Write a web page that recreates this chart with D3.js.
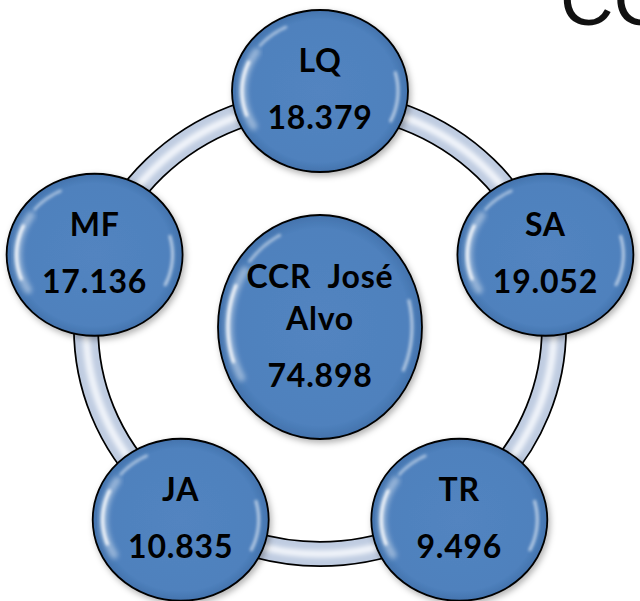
<!DOCTYPE html>
<html>
<head>
<meta charset="utf-8">
<script src="https://cdn.jsdelivr.net/npm/d3@7"></script>
<style>
  body { margin: 0; background: #ffffff; overflow: hidden; }
  svg { display: block; }
</style>
</head>
<body>
<div id="cycle"></div>
<script>
// Data
let units = ["LQ", "SA", "TR", "JA", "MF"];
let unitValues = [18379, 19052, 9496, 10835, 17136];
let centerLines = ["CCR  José", "Alvo"];
let centerValue = 74898;
let titleText = "CC";

function init() {
    let width = 640;
    let height = 601;
    let cx = 320, cy = 328;
    // ring / orbit radius (slightly elliptical like the original)
    let orbit = {"rx": 234, "ry": 226};
    let spoke = 237; // distance of unit centres from the hub
    let node = {"rx": 88, "ry": 81};
    let hub = {"rx": 102, "ry": 112};

    let fmt = d3.format(",.0f");
    let ptBR = v => fmt(v).replace(/,/g, ".");

    let svg = d3.select("#cycle").append("svg")
        .attr("width", width)
        .attr("height", height);

    let defs = svg.append("defs");

    // circle fill
    let grad = defs.append("radialGradient")
        .attr("id", "ballFill")
        .attr("cx", "50%").attr("cy", "50%").attr("r", "50%");
    grad.append("stop").attr("offset", "0%").attr("stop-color", "#5284c0");
    grad.append("stop").attr("offset", "88%").attr("stop-color", "#4f81bd");
    grad.append("stop").attr("offset", "100%").attr("stop-color", "#4373ad");

    let shadow = defs.append("filter").attr("id", "shadow")
        .attr("x", "-20%").attr("y", "-20%").attr("width", "140%").attr("height", "140%");
    shadow.append("feDropShadow")
        .attr("dx", 2).attr("dy", 3).attr("stdDeviation", 3)
        .attr("flood-color", "#000").attr("flood-opacity", 0.3);

    let soft = defs.append("filter").attr("id", "soft")
        .attr("x", "-50%").attr("y", "-50%").attr("width", "200%").attr("height", "200%");
    soft.append("feGaussianBlur").attr("stdDeviation", 1.6);

    let softer = defs.append("filter").attr("id", "softer")
        .attr("x", "-50%").attr("y", "-50%").attr("width", "200%").attr("height", "200%");
    softer.append("feGaussianBlur").attr("stdDeviation", 2.5);

    // title fragment cut by the right edge
    svg.append("text")
        .attr("x", 560)
        .attr("y", 25)
        .attr("font-family", "Liberation Sans, Arial, sans-serif")
        .attr("font-size", 74)
        .attr("fill", "#111")
        .text(titleText);

    // orbit ring
    let ring = svg.append("g");
    ring.append("ellipse")
        .attr("cx", cx).attr("cy", cy)
        .attr("rx", orbit.rx).attr("ry", orbit.ry)
        .attr("fill", "none")
        .attr("stroke", "#000")
        .attr("stroke-width", 26);
    ring.append("ellipse")
        .attr("cx", cx).attr("cy", cy)
        .attr("rx", orbit.rx).attr("ry", orbit.ry)
        .attr("fill", "none")
        .attr("stroke", "#bfcce1")
        .attr("stroke-width", 22.5);
    ring.append("ellipse")
        .attr("cx", cx).attr("cy", cy)
        .attr("rx", orbit.rx).attr("ry", orbit.ry)
        .attr("fill", "none")
        .attr("stroke", "#f4f7fc")
        .attr("stroke-width", 7)
        .attr("filter", "url(#softer)");

    // angle scale, first unit on top, going clockwise
    let angle = d3.scaleLinear()
        .domain([0, units.length])
        .range([-Math.PI / 2, 1.5 * Math.PI]);

    let nodes = units.map((u, i) => {
        let a = angle(i);
        return {
            "name": u,
            "value": unitValues[i],
            "x": cx + spoke * Math.cos(a),
            "y": cy + spoke * Math.sin(a)
        };
    });

    // gloss arc along an inner ellipse between two angles (degrees, screen coords)
    function glossArc(rx, ry, a0, a1) {
        let pts = d3.range(a0, a1 + 0.1, 2).map(a => {
            let r = a * Math.PI / 180;
            return [rx * Math.cos(r), ry * Math.sin(r)];
        });
        return d3.line().curve(d3.curveBasis)(pts);
    }

    function drawBall(g, size) {
        g.append("ellipse")
            .attr("rx", size.rx).attr("ry", size.ry)
            .attr("fill", "url(#ballFill)")
            .attr("stroke", "#000")
            .attr("stroke-width", 1.8)
            .attr("filter", "url(#shadow)");
        // soft glow highlights
        g.append("path")
            .attr("d", glossArc(size.rx - 11, size.ry - 11, 150, 215))
            .attr("fill", "none")
            .attr("stroke", "#ffffff")
            .attr("stroke-opacity", 0.4)
            .attr("stroke-width", 8)
            .attr("stroke-linecap", "round")
            .attr("filter", "url(#softer)");
        g.append("path")
            .attr("d", glossArc(size.rx - 10, size.ry - 10, 160, 205))
            .attr("fill", "none")
            .attr("stroke", "#ffffff")
            .attr("stroke-opacity", 0.95)
            .attr("stroke-width", 3)
            .attr("stroke-linecap", "round")
            .attr("filter", "url(#soft)");
        g.append("path")
            .attr("d", glossArc(size.rx - 10, size.ry - 10, 220, 245))
            .attr("fill", "none")
            .attr("stroke", "#ffffff")
            .attr("stroke-opacity", 0.5)
            .attr("stroke-width", 3)
            .attr("stroke-linecap", "round")
            .attr("filter", "url(#soft)");
        g.append("path")
            .attr("d", glossArc(size.rx - 10, size.ry - 10, -15, 25))
            .attr("fill", "none")
            .attr("stroke", "#ffffff")
            .attr("stroke-opacity", 0.6)
            .attr("stroke-width", 3)
            .attr("stroke-linecap", "round")
            .attr("filter", "url(#soft)");
    }

    let textStyle = sel => sel
        .attr("text-anchor", "middle")
        .attr("font-family", "Lato, 'Open Sans', sans-serif")
        .attr("font-weight", 700)
        .attr("font-size", 32)
        .attr("letter-spacing", 0.8)
        .attr("fill", "#000");

    // outer units
    let outer = svg.selectAll(".unit")
        .data(nodes)
        .join("g")
        .attr("class", "unit")
        .attr("transform", d => "translate(" + d.x + "," + d.y + ")");
    outer.each(function() { drawBall(d3.select(this), node); });
    outer.append("text")
        .attr("y", -19)
        .call(textStyle)
        .text(d => d.name);
    outer.append("text")
        .attr("y", 38)
        .call(textStyle)
        .text(d => ptBR(d.value));

    // hub
    let center = svg.append("g")
        .attr("transform", "translate(" + cx + "," + (cy - 1) + ")");
    drawBall(center, hub);
    center.selectAll(".hubline")
        .data(centerLines)
        .join("text")
        .attr("class", "hubline")
        .attr("y", (d, i) => -39 + i * 42)
        .call(textStyle)
        .attr("xml:space", "preserve")
        .style("white-space", "pre")
        .text(d => d);
    center.append("text")
        .attr("y", 60)
        .call(textStyle)
        .text(ptBR(centerValue));
}
window.onload = init;
</script>
</body>
</html>
